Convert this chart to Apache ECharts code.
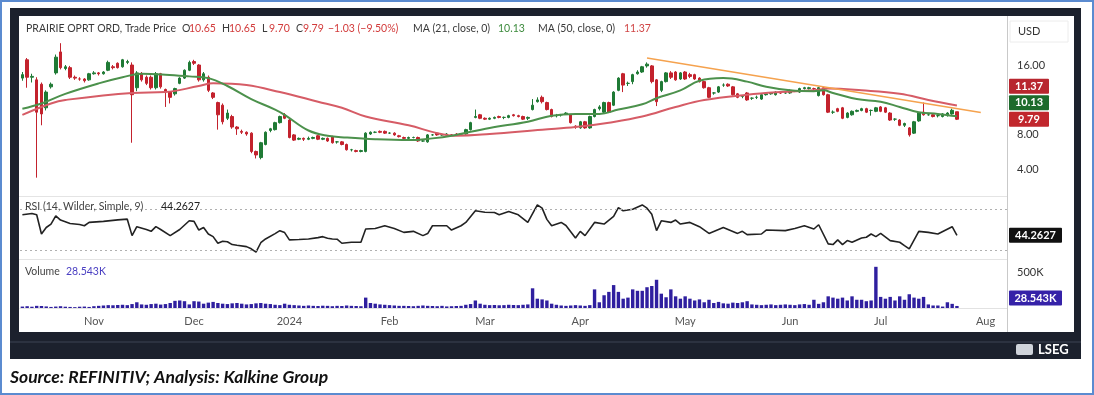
<!DOCTYPE html>
<html><head><meta charset="utf-8">
<script src="https://cdn.jsdelivr.net/npm/echarts@6/dist/echarts.min.js"></script>
<style>html,body{margin:0;padding:0;background:#fff;}#c{width:1094px;height:395px;}</style>
</head><body><div id="c"></div>
<script>
// ---------------- DATA ----------------
const startDate = '2023-10-11';
const endDate = '2024-08-07';           // axis extends past last candle (2024-07-24)
const holidays = ['2023-11-23','2023-12-25','2024-01-01','2024-01-15','2024-02-19','2024-03-29','2024-05-27','2024-06-19','2024-07-04'];
const monthNames = ['Jan','Feb','Mar','Apr','May','Jun','Jul','Aug','Sep','Oct','Nov','Dec'];

// [open, close, low, high] per trading day
const ohlc = [
// Oct 2023
[14.5,14.9,14.2,15.2],[16.6,14.6,13.4,16.8],[14.6,14.7,14.0,15.0],[14.3,10.6,3.1,14.6],[13.8,10.4,9.1,14.0],
[11.1,12.9,10.8,13.1],[13.5,13.8,13.3,14.0],[15.1,16.9,14.9,17.2],[17.5,15.7,15.5,18.5],[15.6,15.8,15.4,16.0],
[15.7,14.6,14.4,15.9],[14.6,14.5,14.3,14.8],[14.4,14.4,14.2,14.6],[14.4,14.2,14.0,14.5],[14.3,15.0,14.2,15.1],
// Nov
[15.0,15.1,14.9,15.3],[15.1,15.0,14.8,15.2],[15.0,15.2,14.9,15.3],[15.4,16.3,15.3,16.5],[15.8,15.7,15.5,16.0],
[16.2,15.7,15.6,16.3],[15.8,16.6,15.7,16.7],[16.3,16.4,16.1,16.6],[16.0,12.6,7.1,16.3],[13.4,15.1,13.0,15.3],
[15.0,14.3,14.1,15.2],[14.6,13.9,13.7,14.8],[14.6,13.4,13.2,14.8],[13.4,15.0,13.2,15.2],[15.0,13.5,13.3,15.1],
[13.2,13.0,11.2,13.3],[12.9,12.3,11.6,13.0],[12.7,13.3,12.5,13.4],[13.9,14.5,13.8,14.6],[14.5,15.4,14.4,15.5],
[15.4,16.3,15.3,16.5],
// Dec
[16.4,16.2,16.0,16.6],[16.0,14.3,14.1,16.1],[14.3,15.0,14.1,15.2],[14.6,13.1,12.9,14.8],[12.8,12.3,12.1,12.9],
[11.7,10.3,8.6,11.8],[11.4,9.5,9.2,11.6],[9.9,10.5,9.7,10.9],[10.1,8.9,8.7,10.3],[8.9,8.7,8.0,9.0],
[8.4,8.3,8.1,8.6],[8.3,8.1,7.9,8.4],[8.2,6.1,5.9,8.3],[6.1,5.7,5.3,6.2],[5.4,7.1,5.2,7.2],
[6.9,8.3,6.8,8.4],[8.5,8.7,8.3,8.8],[8.6,9.4,8.5,9.5],[9.4,10.1,9.3,10.2],[10.3,9.9,9.8,10.5],
// Jan 2024
[9.7,7.7,7.6,9.9],[8.0,7.4,7.3,8.1],[7.5,7.6,7.4,7.7],[7.6,7.5,7.3,7.7],[7.5,7.6,7.4,7.8],
[7.6,7.7,7.5,7.8],[7.9,7.5,7.4,8.0],[7.5,7.6,7.4,7.7],[7.6,7.3,7.2,7.7],[7.8,7.1,7.0,7.9],
[7.2,7.2,7.0,7.3],[7.2,6.9,6.8,7.3],[6.9,6.3,6.2,7.0],[6.3,6.3,6.1,6.4],[6.2,6.1,6.0,6.3],
[6.1,6.2,6.0,6.3],[6.1,8.2,6.0,8.3],[8.1,8.3,8.0,8.4],[8.3,8.3,8.2,8.4],[8.4,8.3,8.2,8.5],
[8.4,8.2,8.1,8.5],
// Feb
[8.2,8.2,8.1,8.3],[8.2,8.0,7.9,8.3],[7.9,7.8,7.7,8.0],[7.7,7.6,7.5,7.8],[7.6,7.7,7.5,7.8],
[7.7,7.7,7.6,7.8],[7.7,7.3,7.2,7.8],[7.3,7.3,7.2,7.4],[7.2,8.0,7.1,8.1],[8.0,8.0,7.9,8.1],
[8.2,8.0,7.9,8.3],[8.0,8.0,7.9,8.1],[8.0,8.1,7.9,8.2],[8.0,8.0,7.9,8.1],[8.1,8.0,7.9,8.2],
[8.1,8.1,8.0,8.2],[8.1,8.6,8.0,8.7],[8.6,9.4,8.5,9.5],[10.0,10.1,9.9,10.9],[10.3,9.9,9.8,10.4],
// Mar
[9.9,9.8,9.7,10.0],[9.8,9.9,9.7,10.0],[9.9,10.0,9.8,10.1],[10.1,10.0,9.9,10.2],[10.0,10.0,9.8,10.1],
[10.0,10.2,9.9,10.3],[10.3,10.2,10.1,10.4],[10.2,10.1,10.0,10.3],[10.1,9.8,9.7,10.2],[9.9,10.0,9.7,10.1],
[10.9,11.4,10.8,12.1],[11.8,12.0,11.7,12.3],[12.3,11.8,11.6,12.5],[11.7,10.9,10.8,11.8],[10.9,10.1,10.0,11.0],
[10.2,10.2,10.0,10.4],[10.3,10.3,10.1,10.4],[10.4,10.5,10.3,10.6],[10.3,9.4,9.3,10.4],[9.0,8.9,8.7,9.1],
// Apr
[8.8,9.5,8.7,9.6],[9.5,8.8,8.7,9.6],[8.8,10.1,8.7,10.2],[10.1,10.9,10.0,11.0],[11.0,11.2,10.8,11.4],
[10.6,11.7,10.5,11.8],[11.7,10.6,10.5,11.8],[11.4,12.9,11.3,13.0],[13.1,14.5,13.0,14.6],[15.0,13.7,12.9,15.1],
[13.9,13.9,13.6,14.1],[14.1,14.9,13.8,15.0],[15.0,15.2,14.9,15.4],[15.2,15.8,15.1,15.9],[15.9,16.1,15.7,16.3],
[15.9,14.1,13.9,16.0],[14.3,11.8,11.3,14.4],[13.1,14.1,12.9,14.2],[14.1,15.1,14.0,15.2],[15.1,14.6,14.4,15.3],
[15.2,14.3,14.2,15.3],[14.4,15.1,14.3,15.2],
// May
[15.2,14.4,14.3,15.3],[14.9,14.7,14.5,15.1],[14.9,14.4,14.3,15.0],[14.5,14.1,14.0,14.6],[14.1,13.4,13.3,14.2],
[13.4,12.3,12.2,13.5],[12.8,12.8,12.6,12.9],[12.9,13.5,12.8,13.6],[13.7,13.7,13.5,13.9],[13.8,13.6,13.5,13.9],
[13.5,12.6,12.5,13.6],[12.7,12.3,12.2,12.8],[12.4,12.4,12.2,12.5],[12.8,12.0,11.9,12.9],[12.2,12.2,12.0,12.3],
[12.3,12.3,12.1,12.5],[12.1,12.6,12.0,12.7],[12.6,12.7,12.5,12.8],[12.7,12.8,12.6,12.9],[12.6,12.9,12.5,13.0],
[12.8,12.8,12.7,12.9],[12.8,12.8,12.7,13.0],
// Jun
[12.8,13.1,12.7,13.2],[13.0,13.0,12.9,13.1],[12.9,13.3,12.8,13.4],[13.3,13.4,13.2,13.5],[13.3,13.4,13.2,13.5],
[13.3,13.3,13.1,13.4],[12.5,13.4,12.4,13.5],[13.4,12.6,12.5,13.5],[12.6,10.6,10.5,12.7],[10.6,10.6,10.4,10.8],
[11.0,10.7,10.6,11.1],[11.1,9.9,9.8,11.2],[10.0,10.5,9.9,10.6],[10.3,10.7,10.2,10.8],[10.7,10.8,10.6,10.9],
[10.8,11.0,10.7,11.1],[11.0,10.6,10.5,11.1],[10.8,10.8,10.2,10.9],[10.7,11.1,10.6,11.2],
// Jul
[11.2,10.7,10.6,11.3],[11.1,10.6,10.5,11.2],[10.5,9.7,9.6,10.6],[9.8,9.8,9.6,9.9],[9.7,9.1,9.0,9.8],
[9.1,9.3,8.9,9.4],[8.8,8.0,7.8,8.9],[8.2,9.5,8.1,9.6],[9.6,10.5,9.5,10.6],[10.6,10.3,10.2,11.7],
[10.3,10.3,10.2,10.4],[10.3,10.1,10.0,10.4],[10.2,10.2,10.0,10.3],[10.1,10.4,10.0,10.5],[10.2,10.5,10.1,10.6],
[10.4,10.82,10.3,11.0],[10.65,9.79,9.70,10.65]
];

// volume in thousands, per trading day
const volumeK = [
20,25,18,30,28,22,15,20,25,18,15,12,18,20,15,
25,30,35,40,38,42,45,40,55,80,50,45,55,60,48,55,70,100,105,95,50,
95,90,60,75,85,70,60,55,65,70,60,50,55,65,70,60,55,45,40,60,
45,40,35,30,35,30,28,32,30,25,30,28,35,30,28,25,145,70,60,50,45,
40,35,30,30,28,25,30,35,30,28,25,30,22,25,28,30,45,55,105,60,
45,40,42,38,40,45,42,40,45,50,275,130,120,105,60,45,35,30,35,40,
35,30,40,260,80,178,225,320,225,130,145,260,240,240,290,307,394,200,150,260,163,130,
163,130,105,120,80,115,70,85,65,60,75,70,80,95,50,45,40,45,50,40,45,50,
45,40,50,55,45,115,58,80,163,145,130,145,105,163,115,115,95,105,575,
155,130,155,105,163,115,192,145,130,155,50,35,35,20,80,58,28.543
];

// moving averages: [dayIndex, value]
const ma21Pts = [[0,11.0],[4,11.6],[9,12.7],[16,13.9],[21,14.6],[25,15.0],[30,14.9],[35,14.7],[39,14.5],[43,13.6],[48,12.1],[53,10.9],[55,10.3],[60,8.5],[64,7.9],[68,7.7],[74,7.5],[81,7.4],[86,7.6],[90,7.9],[98,8.8],[106,9.5],[111,10.2],[116,10.4],[121,10.4],[125,10.9],[130,11.5],[133,12.2],[138,13.1],[142,14.2],[147,14.5],[152,14.1],[156,13.5],[161,13.1],[166,13.0],[168,13.1],[170,12.8],[175,12.1],[180,11.8],[184,11.2],[188,10.6],[192,10.4],[196,10.13]];
const ma50Pts = [[0,10.3],[6,11.6],[9,12.0],[23,12.8],[30,12.9],[37,13.6],[40,13.9],[47,13.7],[54,12.9],[62,11.8],[67,11.1],[72,10.1],[81,9.1],[87,8.2],[91,7.9],[98,8.1],[109,8.6],[116,8.9],[123,9.4],[130,10.1],[137,11.2],[143,12.0],[152,12.6],[159,12.9],[166,13.1],[169,13.3],[176,13.1],[184,12.7],[190,12.0],[196,11.37]];
const trendline = [[131,16.8],[201,10.55]];

// RSI(14): [dayIndex, value]
const rsiPts = [[0,64.5],[2,65.8],[3,64.5],[4,45.6],[5,52],[6,55.4],[7,63.5],[8,59.3],[10,56],[12,55],[13,53.7],[14,57],[17,58],[20,59.5],[22,60.2],[23,44],[24,52.8],[26,50],[27,48.2],[28,52.8],[29,50],[31,44],[33,50],[35,58.6],[36,58],[37,49.5],[38,52],[39,45.6],[40,43],[41,36.5],[42,38.5],[43,38],[44,35.2],[45,34.5],[47,33.2],[48,31],[49,27.7],[50,37],[51,40.7],[53,46],[54,48.9],[55,47],[56,39.8],[58,40.2],[60,40.7],[62,42],[63,43],[64,41.5],[65,40.7],[66,40.5],[67,36.5],[69,37.5],[71,37.5],[72,50.5],[74,51],[76,53.7],[78,51],[80,47.2],[82,48.2],[84,44],[85,46],[86,53.7],[89,53.7],[90,49.5],[92,53.7],[93,57],[95,68.4],[97,67],[99,66.7],[100,64.5],[102,67.7],[104,64.5],[106,57],[108,74.2],[109,71],[110,60],[111,53.7],[113,57],[114,54],[116,41.7],[117,48.2],[118,44],[120,57],[122,55.4],[124,63],[125,71.6],[126,68.4],[128,70],[130,74.2],[131,71],[132,65.1],[133,48.9],[134,58.6],[136,57],[137,59.3],[138,55.4],[140,57],[142,52.8],[144,46.2],[147,52],[150,46.2],[151,48.2],[152,45],[155,45.6],[156,49.5],[160,48.9],[162,51],[164,53.7],[166,50.5],[167,54.7],[169,35.9],[170,35.2],[171,39.8],[172,35.2],[173,39.1],[174,37.5],[176,41.7],[177,42.4],[178,45.6],[179,43],[180,46.2],[182,39.1],[184,37.5],[185,34.2],[186,31],[188,48.2],[190,47.2],[192,45.6],[195,52.8],[196,44.2627]];

const priceTicks = [4, 8, 16];
const volTicks = [500];
const rsiBands = [70, 30];
const headerName = 'PRAIRIE OPRT ORD, Trade Price';
const headerStats = [['O','10.65'],['H','10.65'],['L','9.70'],['C','9.79']];
const headerChange = '\u22121.03 (\u22129.50%)';
const ma21Label = 'MA (21, close, 0)';
const ma50Label = 'MA (50, close, 0)';
const rsiLabel = 'RSI (14, Wilder, Simple, 9)';
const sourceText = 'Source: REFINITIV; Analysis: Kalkine Group';

// ---------------- BUILD ----------------
function tradingDays(s, e, hol) {
  const out = []; const d = new Date(s + 'T00:00:00Z'); const end = new Date(e + 'T00:00:00Z');
  while (d <= end) { const w = d.getUTCDay(); const iso = d.toISOString().slice(0,10);
    if (w !== 0 && w !== 6 && hol.indexOf(iso) < 0) out.push(iso); d.setUTCDate(d.getUTCDate() + 1); }
  return out;
}
const dates = tradingDays(startDate, endDate, holidays);
const FONT = 'Lato';
const GREEN = '#1f7a35', RED = '#c3222d';
const chart = echarts.init(document.getElementById('c'), null, {renderer: 'canvas'});

const L = 20, R = 87;
const option = {
  animation: false,
  backgroundColor: '#ffffff',
  grid: [
    {left: L, right: R, top: 17, height: 179},
    {left: L, right: R, top: 197, height: 62},
    {left: L, right: R, top: 260, height: 48}
  ],
  xAxis: [0,1,2].map(i => ({
    type: 'category', gridIndex: i, data: dates, boundaryGap: true,
    axisLine: {show: i === 2, lineStyle: {color: '#e2e2e2'}},
    axisTick: {show: false}, splitLine: {show: false},
    axisLabel: i === 2 ? {
      show: true,
      interval: (idx, val) => idx > 0 && val.slice(0,7) !== dates[idx-1].slice(0,7),
      formatter: v => { const m = +v.slice(5,7); return m === 1 ? v.slice(0,4) : monthNames[m-1]; },
      color: '#555', fontSize: 11, fontFamily: FONT, margin: 8
    } : {show: false}
  })),
  yAxis: [
    {gridIndex: 0, position: 'right', min: 1.0, max: 21.5, axisLine: {show: false}, axisTick: {show: false}, splitLine: {show: false},
     axisLabel: {customValues: priceTicks, formatter: v => v.toFixed(2), color: '#333', fontSize: 11, fontFamily: FONT, margin: 10}},
    {gridIndex: 1, position: 'right', min: 21, max: 82, axisLine: {show: false}, axisTick: {show: false}, splitLine: {show: false}, axisLabel: {show: false}},
    {gridIndex: 2, position: 'right', min: 0, max: 670, axisLine: {show: false}, axisTick: {show: false}, splitLine: {show: false},
     axisLabel: {customValues: volTicks, formatter: v => v + 'K', color: '#333', fontSize: 11, fontFamily: FONT, margin: 10}}
  ],
  series: [
    {type: 'candlestick', xAxisIndex: 0, yAxisIndex: 0, data: ohlc, barWidth: 3,
     itemStyle: {color: GREEN, color0: RED, borderColor: GREEN, borderColor0: RED, borderWidth: 1}},
    {type: 'line', xAxisIndex: 0, yAxisIndex: 0, data: ma50Pts, smooth: 0.4, symbol: 'none', lineStyle: {color: '#d65c66', width: 2}},
    {type: 'line', xAxisIndex: 0, yAxisIndex: 0, data: ma21Pts, smooth: 0.4, symbol: 'none', lineStyle: {color: '#4c914c', width: 2}},
    {type: 'line', xAxisIndex: 0, yAxisIndex: 0, data: trendline, symbol: 'none', lineStyle: {color: '#f5a24e', width: 1.5}},
    {type: 'line', xAxisIndex: 1, yAxisIndex: 1, data: rsiPts, symbol: 'none', lineStyle: {color: '#222', width: 1.6},
     markLine: {silent: true, symbol: 'none', label: {show: false}, lineStyle: {type: [2,3], color: '#b0b0b0', width: 1},
       data: rsiBands.map(v => ({yAxis: v}))}},
    {type: 'bar', xAxisIndex: 2, yAxisIndex: 2, data: volumeK, barWidth: 3.4, itemStyle: {color: '#2f1f9f'}}
  ]
};
chart.setOption(option);

// ---------- frame, labels, value boxes ----------
const g = [];
// outer light-blue border and dark frame (drawn behind)
g.push({type: 'rect', z: -10, shape: {x: 1, y: 1, width: 1092, height: 393}, style: {fill: '#fff', stroke: '#5b8bd0', lineWidth: 2}});
g.push({type: 'rect', z: -9, shape: {x: 10, y: 8, width: 1071, height: 351}, style: {fill: '#1c212d'}});
g.push({type: 'rect', z: -9, shape: {x: 10, y: 341, width: 1071, height: 2}, style: {fill: '#2c3240'}});
g.push({type: 'rect', z: -8, shape: {x: 19, y: 16, width: 1055, height: 316}, style: {fill: '#ffffff'}});
// panel separators
[196.5, 259.5].forEach(y => g.push({type: 'line', z: 50, shape: {x1: 19, y1: y, x2: 1007, y2: y}, style: {stroke: '#e4e4e4', lineWidth: 1}}));
g.push({type: 'line', z: 50, shape: {x1: 1007.5, y1: 16, x2: 1007.5, y2: 332}, style: {stroke: '#c9c9c9', lineWidth: 1}});
// USD box
g.push({type: 'rect', z: 60, shape: {x: 1010, y: 21, width: 58, height: 21}, style: {fill: '#fff', stroke: '#ececec', lineWidth: 1}});
g.push({type: 'text', z: 61, style: {x: 1018, y: 31.5, text: 'USD', fill: '#333', font: '11px ' + FONT, textVerticalAlign: 'middle'}});

// header legend
const HY = 29;
const hdr = [];
hdr.push({x: 26, text: headerName, fill: '#3a3a3a'});
let hx = 182;
headerStats.forEach(([k, v]) => { hdr.push({x: hx, text: k, fill: '#3a3a3a'}); hdr.push({x: hx + 7, text: v, fill: '#d23b3b'}); hx += (v.length > 4 ? 40 : 34); });
hdr.push({x: 328, text: headerChange, fill: '#d23b3b'});
hdr.push({x: 413, text: ma21Label, fill: '#3a3a3a'});
hdr.push({x: 498, text: ma21Pts[ma21Pts.length-1][1].toFixed(2), fill: '#3d8b3d'});
hdr.push({x: 538, text: ma50Label, fill: '#3a3a3a'});
hdr.push({x: 624, text: ma50Pts[ma50Pts.length-1][1].toFixed(2), fill: '#d04545'});
hdr.forEach(h => g.push({type: 'text', z: 60, style: {x: h.x, y: HY, text: h.text, fill: h.fill, font: '10.5px ' + FONT, textVerticalAlign: 'middle'}}));

// RSI and volume legends
const rsiLast = rsiPts[rsiPts.length-1][1];
const volLast = volumeK[volumeK.length-1];
g.push({type: 'text', z: 60, style: {x: 25, y: 207, text: rsiLabel, fill: '#444', font: '10.5px ' + FONT, textVerticalAlign: 'middle'}});
g.push({type: 'text', z: 60, style: {x: 161, y: 207, text: rsiLast.toFixed(4), fill: '#222', font: '10.5px ' + FONT, textVerticalAlign: 'middle'}});
g.push({type: 'text', z: 60, style: {x: 25, y: 272, text: 'Volume', fill: '#444', font: '10.5px ' + FONT, textVerticalAlign: 'middle'}});
g.push({type: 'text', z: 60, style: {x: 66, y: 272, text: volLast.toFixed(3) + 'K', fill: '#4a3fc2', font: '10.5px ' + FONT, textVerticalAlign: 'middle'}});

// value boxes on the right axis, stacked to avoid overlap
function box(y, w, text, fill) {
  g.push({type: 'rect', z: 70, shape: {x: 1009, y: y - 7.5, width: w, height: 15, r: 1}, style: {fill: fill}});
  g.push({type: 'text', z: 71, style: {x: 1009 + w / 2, y: y, text: text, fill: '#fff', font: 'bold 11px ' + FONT, textAlign: 'center', textVerticalAlign: 'middle'}});
}
const lastC = ohlc[ohlc.length-1];
const pItems = [
  {v: ma50Pts[ma50Pts.length-1][1], fill: '#b8262f'},
  {v: ma21Pts[ma21Pts.length-1][1], fill: '#1d6b2c'},
  {v: lastC[1], fill: lastC[1] < lastC[0] ? '#c1272d' : '#1d6b2c'}
].map(o => Object.assign(o, {y: chart.convertToPixel({yAxisIndex: 0}, o.v)}));
pItems.sort((a, b) => b.y - a.y);
for (let i = 1; i < pItems.length; i++) pItems[i].y = Math.min(pItems[i].y, pItems[i-1].y - 16.5);
pItems.forEach(o => box(o.y, 40, o.v.toFixed(2), o.fill));
box(chart.convertToPixel({yAxisIndex: 1}, rsiLast), 53, rsiLast.toFixed(4), '#111111');
box(Math.min(chart.convertToPixel({yAxisIndex: 2}, volLast), 298), 53, volLast.toFixed(3) + 'K', '#3522a8');

// bottom bar logo and source line
g.push({type: 'rect', z: 60, shape: {x: 1016, y: 344, width: 17, height: 11, r: 2}, style: {fill: '#cfd3da'}});
g.push({type: 'text', z: 60, style: {x: 1038, y: 350, text: 'LSEG', fill: '#ffffff', font: 'bold 13px ' + FONT, textVerticalAlign: 'middle'}});
g.push({type: 'text', z: 60, style: {x: 10, y: 377, text: sourceText, fill: '#111', font: 'italic bold 17.5px ' + FONT, textVerticalAlign: 'middle'}});

chart.setOption({graphic: g});
</script></body></html>
